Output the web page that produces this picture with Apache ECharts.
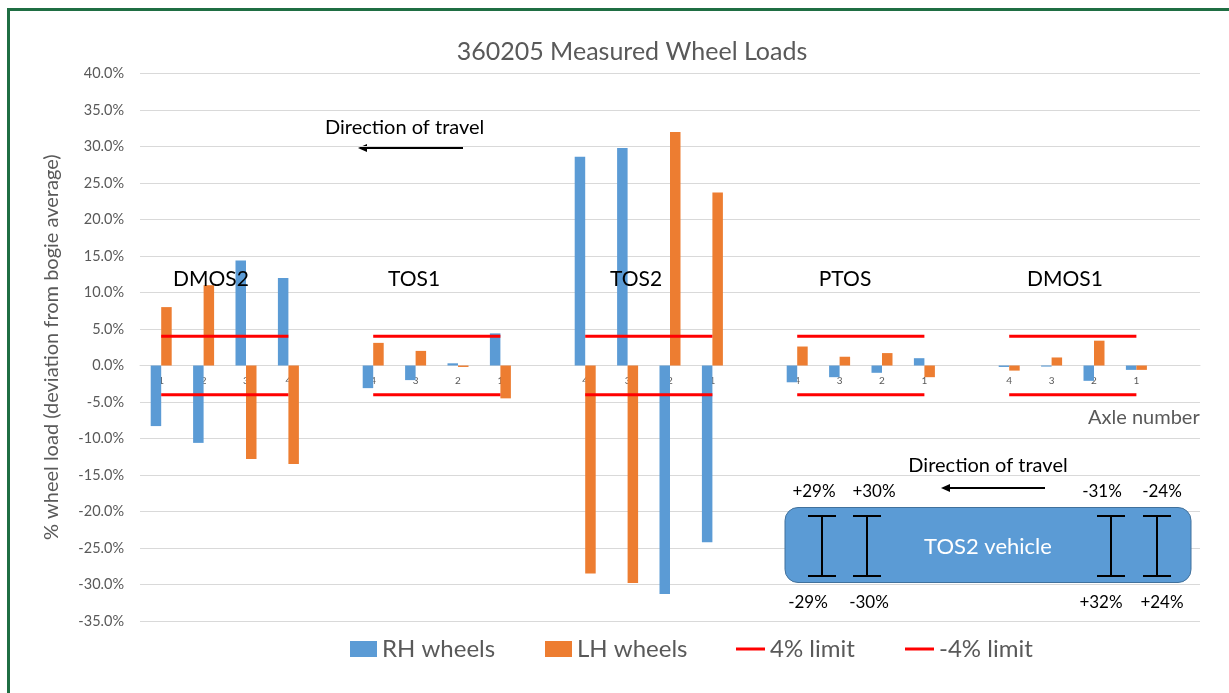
<!DOCTYPE html>
<html><head><meta charset="utf-8">
<script src="https://cdn.jsdelivr.net/npm/echarts@6/dist/echarts.min.js"></script>
<style>html,body{margin:0;padding:0;background:#fff;overflow:hidden}#c{width:1229px;height:693px}</style>
</head><body><div id="c"></div>
<script>
// ---- data ----
const categories = ['DMOS2-1','DMOS2-2','DMOS2-3','DMOS2-4','gap1',
  'TOS1-4','TOS1-3','TOS1-2','TOS1-1','gap2',
  'TOS2-4','TOS2-3','TOS2-2','TOS2-1','gap3',
  'PTOS-4','PTOS-3','PTOS-2','PTOS-1','gap4',
  'DMOS1-4','DMOS1-3','DMOS1-2','DMOS1-1','gap5'];
const axleLabels = ['1','2','3','4','', '4','3','2','1','', '4','3','2','1','', '4','3','2','1','', '4','3','2','1',''];
const rhWheels = [-8.3,-10.6,14.4,12.0,null, -3.1,-2.0,0.3,4.4,null, 28.6,29.8,-31.3,-24.2,null, -2.3,-1.6,-1.0,1.0,null, -0.2,-0.15,-2.1,-0.6,null];
const lhWheels = [8.0,11.0,-12.8,-13.5,null, 3.1,2.0,-0.2,-4.5,null, -28.5,-29.8,32.0,23.7,null, 2.6,1.2,1.7,-1.6,null, -0.7,1.1,3.4,-0.6,null];
const upperLimit = [4,4,4,4,null, 4,4,4,4,null, 4,4,4,4,null, 4,4,4,4,null, 4,4,4,4,null];
const lowerLimit = [-4,-4,-4,-4,null, -4,-4,-4,-4,null, -4,-4,-4,-4,null, -4,-4,-4,-4,null, -4,-4,-4,-4,null];
const groupNames = ['DMOS2','TOS1','TOS2','PTOS','DMOS1'];
const vehicleTop = ['+29%','+30%','-31%','-24%'];
const vehicleBottom = ['-29%','-30%','+32%','+24%'];

const FONT = 'Lato, "Liberation Sans", sans-serif';
const GRAY = '#595959';
const chart = echarts.init(document.getElementById('c'), null, {renderer:'canvas'});

function legendItem(name, left, w, h) {
  return {data:[name], left:left, top:637, icon:'rect', itemWidth:w, itemHeight:h, padding:0,
    textStyle:{fontSize:24, color:GRAY, fontFamily:FONT}, selectedMode:false};
}

const groupLabelX = [211, 414, 636, 845, 1065];
const iX = [822, 867, 1111, 1157];
const topLabX = [814, 874, 1102, 1162];
const botLabX = [808, 869, 1101, 1162];

const graphics = [
  {type:'rect', shape:{x:8.5, y:9.5, width:1400, height:900}, style:{fill:'none', stroke:'#1F6E43', lineWidth:3}, silent:true, z:100},
  {type:'text', x:632, y:52, style:{text:'360205 Measured Wheel Loads', font:'25px '+FONT, fill:GRAY, align:'center', verticalAlign:'middle'}},
  // top direction of travel
  {type:'text', x:325, y:128, style:{text:'Direction of travel', font:'20px '+FONT, fill:'#000', verticalAlign:'middle'}},
  {type:'line', shape:{x1:365, y1:148, x2:463, y2:148}, style:{stroke:'#000', lineWidth:2}},
  {type:'polygon', shape:{points:[[358,148],[367,144],[367,152]]}, style:{fill:'#000'}},
  {type:'text', x:1088, y:418, style:{text:'Axle number', font:'20px '+FONT, fill:GRAY, verticalAlign:'middle'}},
  // vehicle diagram
  {type:'rect', shape:{x:785, y:507.5, width:406, height:75, r:13}, style:{fill:'#5B9BD5', stroke:'#41719C', lineWidth:1}, z:10},
  {type:'text', x:988, y:547, style:{text:'TOS2 vehicle', font:'22px '+FONT, fill:'#fff', align:'center', verticalAlign:'middle'}, z:11},
  {type:'text', x:988, y:466, style:{text:'Direction of travel', font:'20px '+FONT, fill:'#000', align:'center', verticalAlign:'middle'}, z:11},
  {type:'line', shape:{x1:948, y1:488, x2:1045, y2:488}, style:{stroke:'#000', lineWidth:2}, z:11},
  {type:'polygon', shape:{points:[[941,488],[950,484],[950,492]]}, style:{fill:'#000'}, z:11}
];
groupNames.forEach((n,i)=>graphics.push({type:'text', x:groupLabelX[i], y:279, style:{text:n, font:'21px '+FONT, fill:'#000', align:'center', verticalAlign:'middle'}, z:20}));
iX.forEach((x,i)=>{
  graphics.push({type:'line', shape:{x1:x, y1:516, x2:x, y2:576}, style:{stroke:'#000', lineWidth:2}, z:11});
  graphics.push({type:'line', shape:{x1:x-14, y1:516, x2:x+14, y2:516}, style:{stroke:'#000', lineWidth:2}, z:11});
  graphics.push({type:'line', shape:{x1:x-14, y1:576, x2:x+14, y2:576}, style:{stroke:'#000', lineWidth:2}, z:11});
  graphics.push({type:'text', x:topLabX[i], y:492, style:{text:vehicleTop[i], font:'17px '+FONT, fill:'#000', align:'center', verticalAlign:'middle'}, z:11});
  graphics.push({type:'text', x:botLabX[i], y:603, style:{text:vehicleBottom[i], font:'17px '+FONT, fill:'#000', align:'center', verticalAlign:'middle'}, z:11});
});

chart.setOption({
  animation:false,
  backgroundColor:'#fff',
  grid:{left:140, right:29, top:73.5, bottom:72, containLabel:false, outerBoundsMode:'none'},
  legend:[
    legendItem('RH wheels', 350, 27, 16),
    legendItem('LH wheels', 545, 27, 16),
    legendItem('4% limit', 736, 29, 3),
    legendItem('-4% limit', 905, 29, 3)
  ],
  xAxis:{type:'category', data:categories, offset:-255.5,
    axisLine:{onZero:false, lineStyle:{color:'#D9D9D9', width:1}},
    axisTick:{show:false},
    axisLabel:{interval:0, margin:10, fontSize:10, color:GRAY, fontFamily:FONT, formatter:(v,i)=>axleLabels[i]},
    splitLine:{show:false}},
  yAxis:{type:'value', min:-35, max:40, interval:5,
    name:'% wheel load (deviation from bogie average)', nameLocation:'middle', nameGap:78,
    nameTextStyle:{fontSize:20, color:GRAY, fontFamily:FONT},
    axisLine:{show:false}, axisTick:{show:false},
    axisLabel:{margin:16, fontSize:14.5, color:GRAY, fontFamily:FONT, formatter:v=>v.toFixed(1)+'%'},
    splitLine:{lineStyle:{color:'#D9D9D9', width:1}}},
  series:[
    {name:'RH wheels', type:'bar', data:rhWheels, barWidth:10.5, barGap:'0%', itemStyle:{color:'#5B9BD5'}},
    {name:'LH wheels', type:'bar', data:lhWheels, barWidth:10.5, barGap:'0%', itemStyle:{color:'#ED7D31'}},
    {name:'4% limit', type:'line', data:upperLimit, symbol:'none', connectNulls:false, lineStyle:{color:'#FF0000', width:3}, itemStyle:{color:'#FF0000'}, z:5},
    {name:'-4% limit', type:'line', data:lowerLimit, symbol:'none', connectNulls:false, lineStyle:{color:'#FF0000', width:3}, itemStyle:{color:'#FF0000'}, z:5}
  ],
  graphic:graphics
});
</script></body></html>
